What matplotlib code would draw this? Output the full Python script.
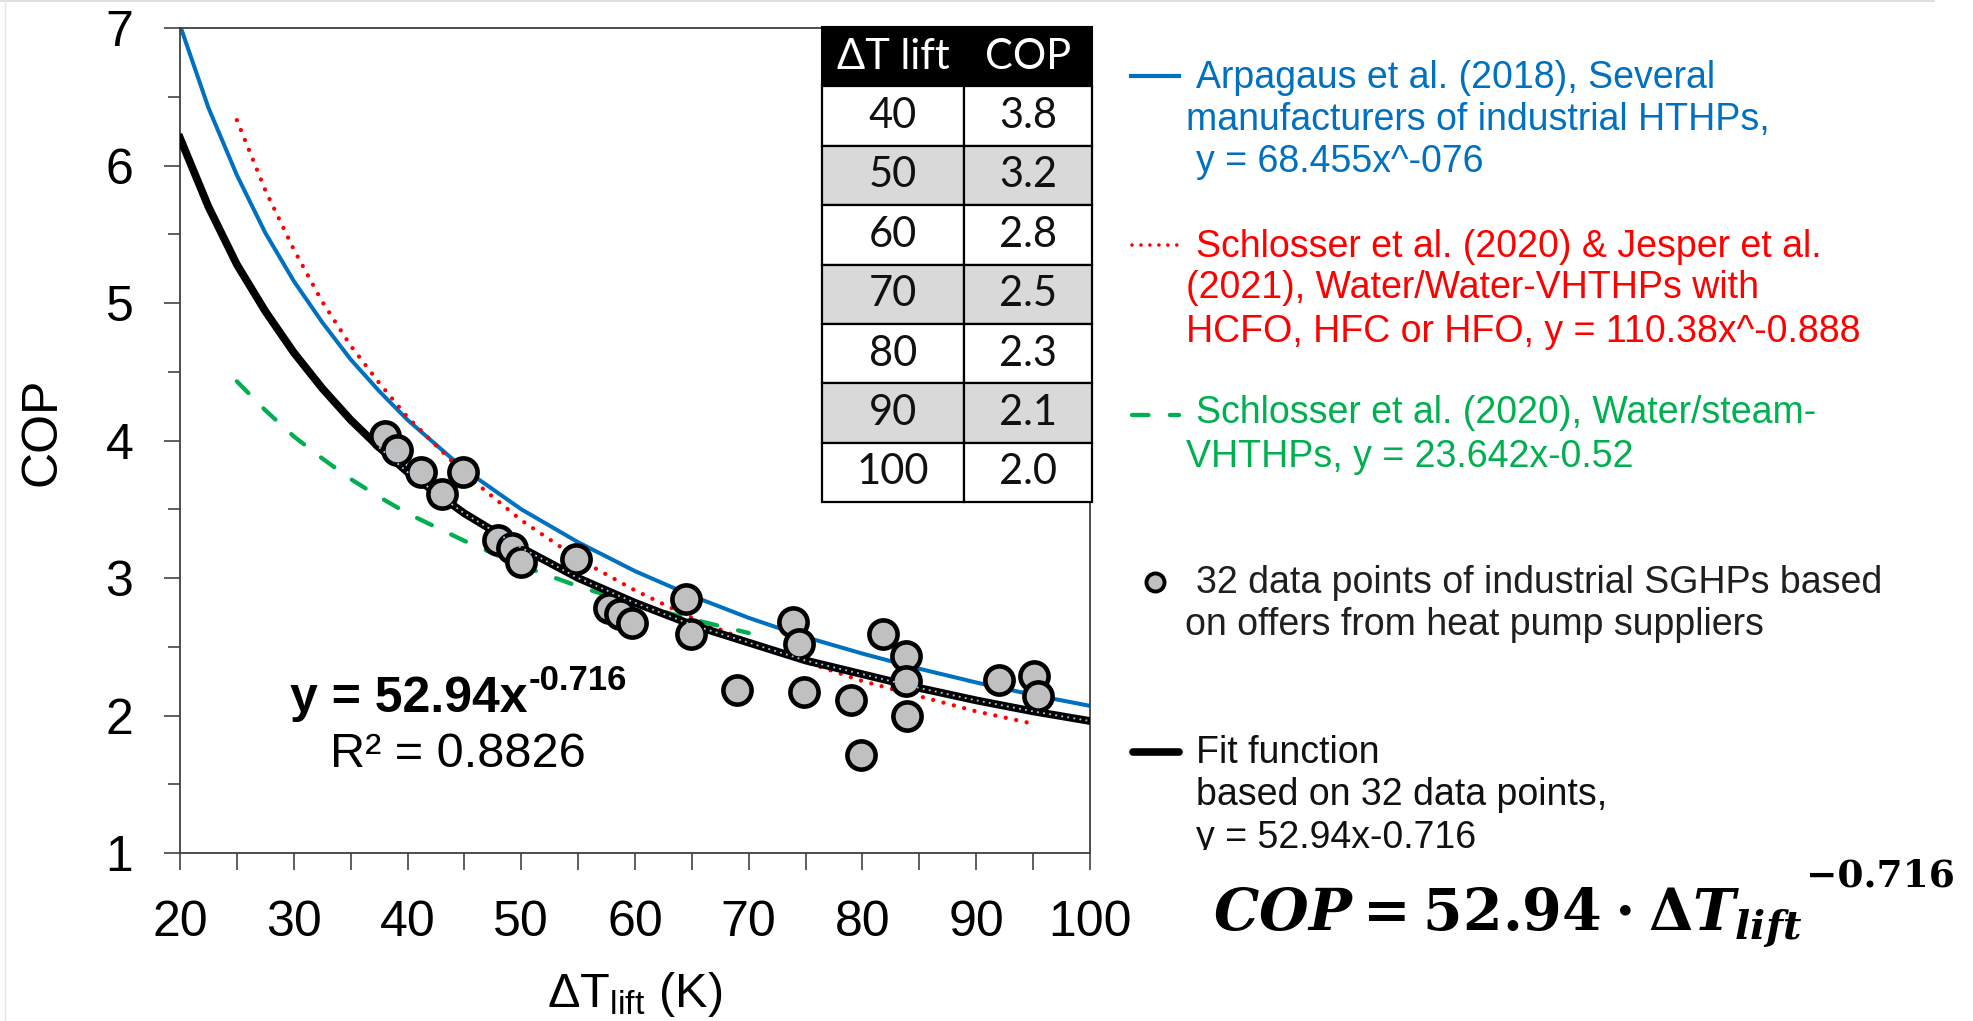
import numpy as np
import matplotlib
matplotlib.use("Agg")
import matplotlib.pyplot as plt
from matplotlib.lines import Line2D
from matplotlib.patches import Rectangle
from matplotlib.text import Annotation

plt.rcParams['font.family'] = ['Liberation Sans', 'DejaVu Sans']
plt.rcParams['mathtext.fontset'] = 'custom'
plt.rcParams['mathtext.rm'] = 'DejaVu Serif:bold'
plt.rcParams['mathtext.it'] = 'DejaVu Serif:italic:bold'
plt.rcParams['mathtext.bf'] = 'DejaVu Serif:bold'

# ---------------- data ----------------
fit_x = [20, 22.5, 25, 27.5, 30, 32.5, 35, 37.5, 40, 45, 50, 55, 60, 65, 70, 75, 80, 85, 90, 95, 100]
fit_y = [6.20, 5.70, 5.28, 4.94, 4.64, 4.38, 4.15, 3.95, 3.77, 3.47, 3.22, 3.00, 2.82, 2.66, 2.53,
         2.40, 2.30, 2.20, 2.11, 2.03, 1.96]

blue_x = [20, 22.5, 25, 27.5, 30, 32.5, 35, 37.5, 40, 45, 50, 55, 60, 65, 70, 75, 80, 85, 90, 95, 100]
blue_y = [7.02, 6.42, 5.93, 5.51, 5.16, 4.86, 4.59, 4.36, 4.15, 3.79, 3.50, 3.26, 3.05, 2.87, 2.71,
          2.57, 2.45, 2.34, 2.24, 2.15, 2.07]

red_x = [25, 27.5, 30, 32.5, 35, 37.5, 40, 45, 50, 55, 60, 65, 70, 75, 80, 85, 90, 95]
red_y = [6.33, 5.82, 5.39, 5.01, 4.69, 4.42, 4.17, 3.76, 3.42, 3.14, 2.91, 2.71, 2.54, 2.39, 2.25,
         2.14, 2.03, 1.94]

green_x = [25, 27.5, 30, 32.5, 35, 37.5, 40, 45, 50, 55, 60, 65, 70]
green_y = [4.43, 4.22, 4.03, 3.87, 3.72, 3.59, 3.47, 3.27, 3.09, 2.94, 2.81, 2.70, 2.60]

pts_x = [38.0, 39.05, 41.2, 43.0, 44.85, 48.0, 49.15, 50.0, 54.8, 57.7, 58.7, 59.7, 64.5, 64.9,
         69.0, 73.9, 74.45, 74.9, 78.95, 79.9, 81.8, 83.8, 83.8, 83.9, 92.0, 95.1, 95.4]
pts_y = [4.03, 3.93, 3.77, 3.61, 3.77, 3.28, 3.22, 3.12, 3.14, 2.78, 2.74, 2.67, 2.85, 2.59,
         2.185, 2.68, 2.52, 2.17, 2.11, 1.71, 2.59, 2.43, 2.25, 2.00, 2.26, 2.29, 2.14]

table_header = ['\u0394T lift', 'COP']
table_dT = [40, 50, 60, 70, 80, 90, 100]
table_cop = [3.8, 3.2, 2.8, 2.5, 2.3, 2.1, 2.0]

xticks = [20, 30, 40, 50, 60, 70, 80, 90, 100]
yticks = [1, 2, 3, 4, 5, 6, 7]

legend_blue = ["Arpagaus et al. (2018), Several", "manufacturers of industrial HTHPs,", "y = 68.455x^-076"]
legend_red = ["Schlosser et al. (2020) & Jesper et al.", "(2021), Water/Water-VHTHPs with",
              "HCFO, HFC or HFO, y = 110.38x^-0.888"]
legend_green = ["Schlosser et al. (2020), Water/steam-", "VHTHPs, y = 23.642x-0.52"]
legend_pts = ["32 data points of industrial SGHPs based", "on offers from heat pump suppliers"]
legend_fit = ["Fit function", "based on 32 data points,", "y = 52.94x-0.716"]

BLUE, RED, GREEN = '#0070c0', '#ff0000', '#00b050'
RED_LS = (0, (0.01, 2.47))
GREEN_LS = (0, (3.8, 5.0))

# ---------------- figure ----------------
W, H = 1974, 1021
fig = plt.figure(figsize=(W / 100, H / 100), dpi=100)
fig.patch.set_facecolor('white')


def fx(px):
    return px / W


def fy(py):
    return 1 - py / H


ax = fig.add_axes([fx(180), fy(853), 910 / W, 825 / H])
ax.set_xlim(20, 100)
ax.set_ylim(1, 7)

ax.plot(blue_x, blue_y, color=BLUE, lw=2.9, zorder=2)
ax.plot(red_x, red_y, color=RED, lw=3.1, linestyle=RED_LS, dash_capstyle='round', zorder=3)
ax.plot(green_x, green_y, color=GREEN, lw=3.1, linestyle=GREEN_LS, dash_capstyle='round', zorder=3)
ax.plot(fit_x, fit_y, color='black', lw=5.6, zorder=4)
ax.plot(pts_x, pts_y, 'o', ms=20.3, mfc='#c0c0c0', mec='black', mew=3.3, zorder=5)
fx_arr, fy_arr = np.array(fit_x), np.array(fit_y)
mask = fx_arr >= 37.5
ax.plot(fx_arr[mask], fy_arr[mask], color='#a9cbe9', lw=1.3, linestyle=(0, (1.0, 2.4)), zorder=6)

ax.set_xticks(xticks)
ax.set_xticks([25, 35, 45, 55, 65, 75, 85, 95], minor=True)
ax.set_yticks(yticks)
ax.set_yticks([1.5, 2.5, 3.5, 4.5, 5.5, 6.5], minor=True)
ax.tick_params(axis='x', which='both', direction='out', length=12, width=1.1, pad=22,
               labelsize=36, color='#333333')
ax.tick_params(axis='y', which='major', direction='out', length=11.5, width=1.1, pad=22,
               labelsize=36, color='#333333')
ax.tick_params(axis='y', which='minor', direction='out', length=8.5, width=1.1, color='#333333')
for s in ax.spines.values():
    s.set_linewidth(1.3)
    s.set_color('#404040')

ax.set_xlabel(r'$\mathregular{\Delta T_{lift}}$ (K)', fontsize=35)
ax.xaxis.set_label_coords(0.5, (853 - 1007) / 825)
ax.xaxis.label.set_va('baseline')
ax.set_ylabel('COP', fontsize=36)
ax.yaxis.set_label_coords((42 - 180) / 910, 0.51)
ax.yaxis.label.set_va('center')

main = ax.text(29.67, 2.025, 'y = 52.94x', fontsize=36, fontweight='bold', va='baseline', zorder=7)
ax.annotate('-0.716', xy=(1, 0), xycoords=main, xytext=(1, 23), textcoords='offset points',
            fontsize=25, fontweight='bold', va='baseline', zorder=7)
ax.text(33.19, 1.625, 'R\u00b2 = 0.8826', fontsize=35, va='baseline', zorder=7)

# ---------------- table ----------------
tax = fig.add_axes([fx(822), fy(502), 270 / W, 475 / H])
tax.set_xlim(0, 270)
tax.set_ylim(8, 0)
tax.axis('off')
colx = [0, 142, 270]
tfont = dict(family=['Lato', 'DejaVu Sans'], fontsize=30, ha='center', va='center')
tax.add_patch(Rectangle((0, 0), 270, 1, fc='black', ec='black', lw=1.5, clip_on=False))
for j, h in enumerate(table_header):
    tax.text((colx[j] + colx[j + 1]) / 2, 0.5, h, color='white', **tfont)
for i, (d, c) in enumerate(zip(table_dT, table_cop)):
    row = i + 1
    fc = '#d9d9d9' if i % 2 == 1 else 'white'
    vals = [str(d), f'{c:.1f}']
    for j in range(2):
        tax.add_patch(Rectangle((colx[j], row), colx[j + 1] - colx[j], 1, fc=fc, ec='black',
                                lw=1.6, clip_on=False))
        tax.text((colx[j] + colx[j + 1]) / 2, row + 0.5, vals[j], color='#111111', **tfont)

# ---------------- legend (right side) ----------------
LFS = 27


def handle(x0, x1, y, **kw):
    fig.add_artist(Line2D([fx(x0), fx(x1)], [fy(y), fy(y)], transform=fig.transFigure, **kw))


def lines(items, color):
    for (x, yb), s in items:
        fig.text(fx(x), fy(yb), s, fontsize=LFS, color=color, va='baseline', ha='left')


handle(1131, 1179, 76, color=BLUE, lw=3.0)
lines(zip([(1196, 88), (1186, 130), (1196, 172)], legend_blue), BLUE)

handle(1132, 1177, 245, color=RED, lw=2.6, linestyle=RED_LS, dash_capstyle='round')
lines(zip([(1196, 257), (1186, 298), (1186, 342)], legend_red), RED)

handle(1132, 1179, 415, color=GREEN, lw=3.1, linestyle=GREEN_LS, dash_capstyle='round')
lines(zip([(1196, 423), (1186, 467)], legend_green), GREEN)

fig.add_artist(Line2D([fx(1155)], [fy(582)], transform=fig.transFigure, marker='o', ms=13,
                      mfc='#c0c0c0', mec='black', mew=2.8, linestyle='none'))
lines(zip([(1196, 593), (1185, 635)], legend_pts), '#1f1f1f')

handle(1133, 1179, 752, color='black', lw=5.5, solid_capstyle='round')
lines(zip([(1196, 763), (1196, 805), (1196, 848)], legend_fit), '#111111')

# cropped bottom edge of the screenshot
fig.add_artist(Rectangle((fx(1120), fy(869)), (W - 1120) / W, 19 / H, transform=fig.transFigure,
                         fc='white', ec='none', zorder=10))

# screenshot border lines
fig.add_artist(Line2D([0, fx(1934)], [fy(1.5), fy(1.5)], transform=fig.transFigure,
                      color='#d9d9d9', lw=1.2))
fig.add_artist(Line2D([fx(5.5), fx(5.5)], [0, 1], transform=fig.transFigure, color='#e6e6e6', lw=1.0))

# big formula
formula = fig.text(fx(1213), fy(930), r'$COP = 52.94 \cdot \mathit{\Delta} T_{lift}$', fontsize=41,
                   va='baseline', ha='left', zorder=11)
sup = Annotation('\u22120.716', xy=(1, 1), xycoords=formula, xytext=(3, 20), textcoords='offset points',
                 fontsize=27, fontweight='bold', family=['DejaVu Serif'], va='top', ha='left', zorder=11)
fig.add_artist(sup)

fig.savefig('out.png', dpi=100, facecolor='white')
